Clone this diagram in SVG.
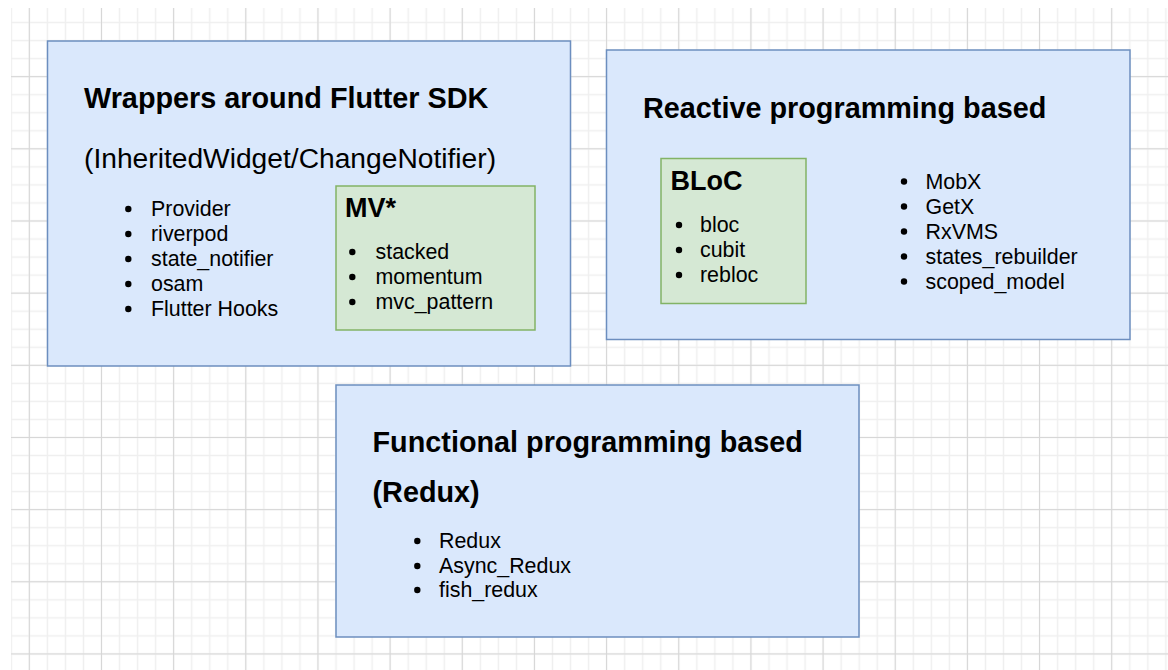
<svg xmlns="http://www.w3.org/2000/svg" width="1168" height="670" viewBox="0 0 1168 670">
<defs>
<pattern id="minor" patternUnits="userSpaceOnUse" x="2.3" y="-4.5" width="18.04" height="18.04">
<path d="M9.02 0V18.04M0 9.02H18.04" stroke="#efefef" stroke-width="1.5" fill="none"/>
</pattern>
<pattern id="major" patternUnits="userSpaceOnUse" x="-6.78" y="-31.58" width="72.16" height="72.16">
<path d="M36.08 0V72.16M0 36.08H72.16" stroke="#d6d6d6" stroke-width="1" fill="none"/>
</pattern>
</defs>
<style>
.box{fill:#dae8fc;stroke:#6c8ebf;stroke-width:1.5}
.gbox{fill:#d5e8d4;stroke:#82b366;stroke-width:1.5}
.t{font-family:"Liberation Sans",Arial,Helvetica,sans-serif;fill:#000}
.h{font-size:28.8px;font-weight:bold}
.sub{font-size:28.2px}
.h2{font-size:27px;font-weight:bold}
.li{font-size:21.4px}
.b{fill:#000}
</style>
<rect width="1168" height="670" fill="#ffffff"/>
<rect x="11" y="8" width="1157" height="662" fill="url(#minor)"/>
<rect x="11" y="8" width="1157" height="662" fill="url(#major)"/>
<g id="connectors"/>
<g id="wrappers">
<rect class="box" x="47.5" y="41" width="523" height="325"/>
<text class="t h" x="84" y="108">Wrappers around Flutter SDK</text>
<text class="t sub" x="84" y="168">(InheritedWidget/ChangeNotifier)</text>
<g class="b">
<circle cx="128.3" cy="209" r="3.2"/><circle cx="128.3" cy="234" r="3.2"/><circle cx="128.3" cy="259" r="3.2"/><circle cx="128.3" cy="284" r="3.2"/><circle cx="128.3" cy="309" r="3.2"/>
</g>
<text class="t li" x="151" y="216">Provider</text>
<text class="t li" x="151" y="241">riverpod</text>
<text class="t li" x="151" y="266">state_notifier</text>
<text class="t li" x="151" y="291">osam</text>
<text class="t li" x="151" y="316">Flutter Hooks</text>
</g>
<g id="mvstar">
<rect class="gbox" x="336" y="186" width="199" height="144"/>
<text class="t h2" x="345" y="216.5">MV*</text>
<g class="b">
<circle cx="352.3" cy="252" r="3.2"/><circle cx="352.3" cy="277" r="3.2"/><circle cx="352.3" cy="302" r="3.2"/>
</g>
<text class="t li" x="375.5" y="259">stacked</text>
<text class="t li" x="375.5" y="284">momentum</text>
<text class="t li" x="375.5" y="309">mvc_pattern</text>
</g>
<g id="reactive">
<rect class="box" x="606.5" y="50" width="523.5" height="289.5"/>
<text class="t h" x="643" y="118">Reactive programming based</text>
<g class="b">
<circle cx="904" cy="181.5" r="3.2"/><circle cx="904" cy="206.5" r="3.2"/><circle cx="904" cy="231.5" r="3.2"/><circle cx="904" cy="256.5" r="3.2"/><circle cx="904" cy="281.5" r="3.2"/>
</g>
<text class="t li" x="925.5" y="188.5">MobX</text>
<text class="t li" x="925.5" y="213.5">GetX</text>
<text class="t li" x="925.5" y="238.5">RxVMS</text>
<text class="t li" x="925.5" y="263.5">states_rebuilder</text>
<text class="t li" x="925.5" y="288.5">scoped_model</text>
</g>
<g id="bloc">
<rect class="gbox" x="661" y="158.5" width="145" height="145"/>
<text class="t h2" x="670.5" y="190">BLoC</text>
<g class="b">
<circle cx="679" cy="225" r="3.2"/><circle cx="679" cy="250" r="3.2"/><circle cx="679" cy="275" r="3.2"/>
</g>
<text class="t li" x="700" y="232">bloc</text>
<text class="t li" x="700" y="257">cubit</text>
<text class="t li" x="700" y="282">rebloc</text>
</g>
<g id="functional">
<rect class="box" x="336" y="385" width="523" height="252"/>
<text class="t h" x="372.5" y="451.5">Functional programming based</text>
<text class="t h" x="372.5" y="501.5">(Redux)</text>
<g class="b">
<circle cx="417.3" cy="541" r="3.2"/><circle cx="417.3" cy="566" r="3.2"/><circle cx="417.3" cy="590" r="3.2"/>
</g>
<text class="t li" x="439" y="547.5">Redux</text>
<text class="t li" x="439" y="572.5">Async_Redux</text>
<text class="t li" x="439" y="597">fish_redux</text>
</g>
</svg>
